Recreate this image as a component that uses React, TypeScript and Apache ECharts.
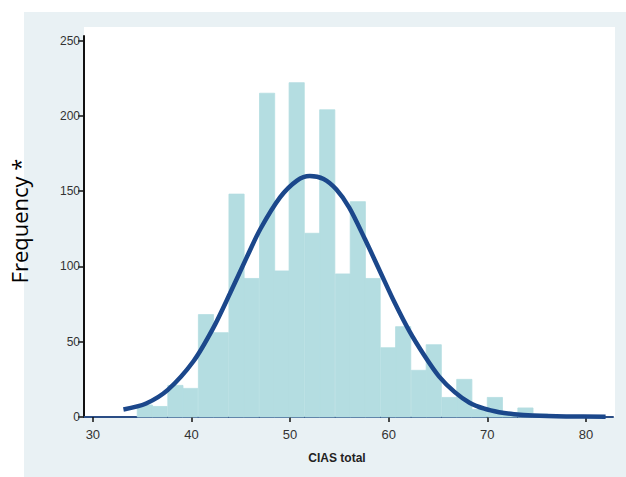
import React, { useEffect, useRef } from "react";
import * as echarts from "echarts";

// Histogram bins (lower edges) and counts
const binStarts = [34.5, 36.0, 37.6, 39.1, 40.7, 42.2, 43.8, 45.3, 46.9, 48.4, 49.9, 51.5, 53.0, 54.6, 56.1, 57.6, 59.2, 60.7, 62.3, 63.8, 65.4, 66.9, 68.4, 70.0, 71.5, 73.1, 74.6, 76.2, 77.7, 79.2];
const binWidth = 1.54;
const counts = [8, 7, 21, 19, 68, 56, 148, 92, 215, 97, 222, 122, 204, 95, 143, 92, 46, 60, 31, 48, 13, 25, 5, 13, 3, 6, 2, 1, 1, 1];

// Fitted normal curve
const curveX = [33.1, 35.4, 37.6, 40.2, 42.2, 43.9, 45.6, 47.0, 49.0, 50.7, 52.0, 53.4, 54.7, 56.0, 57.6, 59.1, 60.6, 62.1, 63.6, 65.1, 66.7, 68.2, 69.7, 71.2, 72.7, 74.6, 78.0, 82.0];
const curveY = [5, 9, 18, 37, 59, 82, 106, 125, 146, 157, 160, 158, 151, 139, 118, 97, 76, 57, 41, 27, 16.5, 9.5, 5.5, 3.2, 1.9, 1, 0.4, 0.2];

const xTicks = [30, 40, 50, 60, 70, 80];
const xTitle = "CIAS total";
const yTitle = "Frequency *";

export default function App() {
  const ref = useRef<HTMLDivElement>(null);
  useEffect(() => {
    document.body.style.margin = "0";
    if (!ref.current) return;
    const chart = echarts.init(ref.current, null, { renderer: "svg" });
    const barData = binStarts.map((s, i) => [s, s + binWidth, counts[i]]);
    const lineData = curveX.map((x, i) => [x, curveY[i]]);
    chart.setOption({
      animation: false,
      backgroundColor: "#ffffff",
      grid: { left: 84, right: 13, top: 36, bottom: 60, outerBoundsMode: "none" },
      xAxis: {
        type: "value",
        min: 29.1,
        max: 82.75,
        axisLine: { show: true, lineStyle: { color: "#2a4d85", width: 2 } },
        axisTick: { show: true, length: 5, lineStyle: { color: "#111", width: 1.5 }, customValues: xTicks },
        axisLabel: { color: "#333", fontSize: 13, fontFamily: "Liberation Sans, Arial", margin: 11, customValues: xTicks },
        splitLine: { show: false },
      },
      yAxis: {
        type: "value",
        min: 0,
        max: 253,
        interval: 50,
        axisLine: { show: true, lineStyle: { color: "#111", width: 2 } },
        axisTick: { show: true, length: 6, lineStyle: { color: "#111", width: 1.5 } },
        axisLabel: { color: "#333", fontSize: 12, fontFamily: "Liberation Sans, Arial", margin: 4, showMaxLabel: false },
        splitLine: { show: false },
      },
      graphic: [
        { type: "rect", z: -100, shape: { x: 24, y: 12, width: 602, height: 465 }, style: { fill: "#e9f1f4" } },
        { type: "rect", z: -99, shape: { x: 84, y: 27, width: 531, height: 390 }, style: { fill: "#ffffff" } },
        {
          type: "text",
          x: 337,
          y: 458,
          style: { text: xTitle, fill: "#222", font: "bold 12px Liberation Sans, Arial", align: "center", verticalAlign: "middle" },
        },
        {
          type: "text",
          x: 19,
          y: 221,
          rotation: Math.PI / 2,
          style: { text: yTitle, fill: "#000", font: "22px Open Sans", align: "center", verticalAlign: "middle" },
        },
      ],
      series: [
        {
          type: "custom",
          z: 2,
          data: barData,
          renderItem: (params: any, api: any) => {
            const p0 = api.coord([api.value(0), api.value(2)]);
            const p1 = api.coord([api.value(1), 0]);
            return {
              type: "rect",
              shape: { x: p0[0], y: p0[1], width: p1[0] - p0[0], height: p1[1] - p0[1] },
              style: { fill: "#b4dde1", stroke: "#b4dde1", lineWidth: 0.8 },
            };
          },
        },
        {
          type: "line",
          z: 3,
          data: lineData,
          smooth: 0.3,
          showSymbol: false,
          lineStyle: { color: "#1b478b", width: 4.5 },
        },
      ],
    });
    return () => chart.dispose();
  }, []);
  return <div ref={ref} style={{ width: 626, height: 477 }} />;
}
